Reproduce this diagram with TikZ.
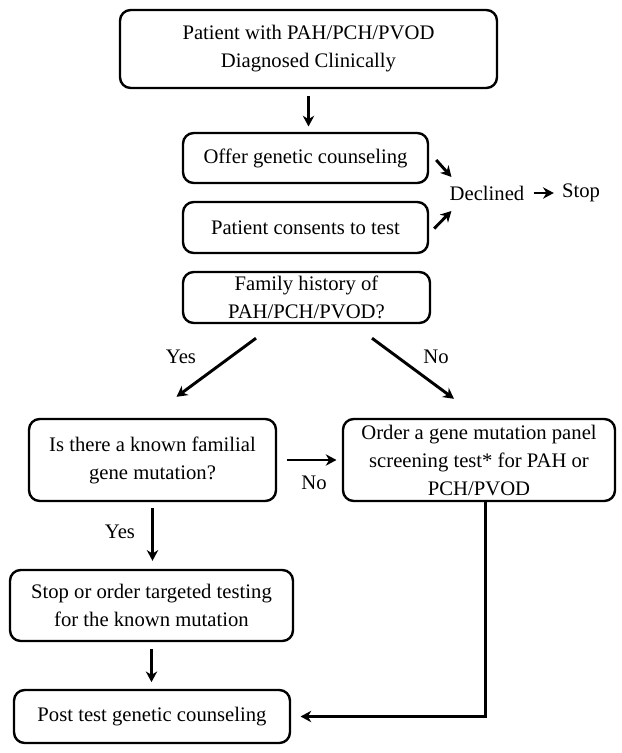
\documentclass[tikz,border=0pt]{standalone}
\usepackage{fontspec}
\setmainfont{Liberation Serif}
\usetikzlibrary{arrows.meta}
\begin{document}
\begin{tikzpicture}[x=0.75pt,y=-0.75pt,
  box/.style={draw,line width=1.8pt,rounded corners=8pt,align=center,inner sep=0pt,font=\fontsize{15.5pt}{21pt}\selectfont},
  lbl/.style={inner sep=0pt,font=\fontsize{15.5pt}{21pt}\selectfont},
  arr/.style={-{Stealth[length=8pt,width=8.5pt,inset=2.5pt]},line width=2.2pt}]
\useasboundingbox (0,0) rectangle (621,753);

\node (top) at (308.5, 49) [box,minimum width=282.75pt,minimum height=58.5pt] {Patient with PAH/PCH/PVOD\\Diagnosed Clinically};
\node (offer) at (305.5, 158) [box,minimum width=183.75pt,minimum height=37.5pt] {Offer genetic counseling};
\node (consent) at (305.5, 227.5) [box,minimum width=183.75pt,minimum height=38.25pt] {Patient consents to test};
\node (family) at (306.5, 297.5) [box,minimum width=185.25pt,minimum height=38.25pt] {Family history of\\PAH/PCH/PVOD?};
\node (known) at (152.5, 460) [box,minimum width=185.25pt,minimum height=61.5pt] {Is there a known familial\\gene mutation?};
\node (panel) at (479, 460) [box,minimum width=204pt,minimum height=61.5pt] {Order a gene mutation panel\\screening test* for PAH or\\PCH/PVOD};
\node (targeted) at (151.5, 605.5) [box,minimum width=212.25pt,minimum height=53.25pt] {Stop or order targeted testing\\for the known mutation};
\node (post) at (152, 716.5) [box,minimum width=207pt,minimum height=39.75pt] {Post test genetic counseling};

\node (declined) at (487, 193) [lbl] {Declined};
\node (stop) at (581, 193) [lbl] {Stop};

\node (yes1) at (181, 357) [lbl] {Yes};
\node (no1) at (436, 357) [lbl] {No};
\node (no2) at (314, 483) [lbl] {No};
\node (yes2) at (120, 532) [lbl] {Yes};

\draw [arr,shorten <=5pt,shorten >=4pt] (top.south) -- (top.south |- offer.north);
\draw [arr] ([shift={(7,2)}]offer.east) -- ([shift={(2,-16)}]declined.west);
\draw [arr] ([shift={(5,1)}]consent.east) -- ([shift={(2,18)}]declined.west);
\draw [arr,shorten <=7pt,shorten >=6pt] (declined) -- (stop);
\draw [arr] ([shift={(-50.5,14)}]family.south) -- ([shift={(24,-21)}]known.north);
\draw [arr] ([shift={(65.5,14)}]family.south) -- ([shift={(-25,-19)}]panel.north);
\draw [arr,shorten <=7pt,shorten >=4pt] (known) -- (panel);
\draw [arr,shorten <=4.5pt,shorten >=6pt] (known.south) -- (known.south |- targeted.north);
\draw [arr,shorten <=5pt,shorten >=5pt] (targeted.south) -- (targeted.south |- post.north);
\draw [arr,shorten >=7pt] ([xshift=5]panel.south) |- (post.east);
\end{tikzpicture}
\end{document}
